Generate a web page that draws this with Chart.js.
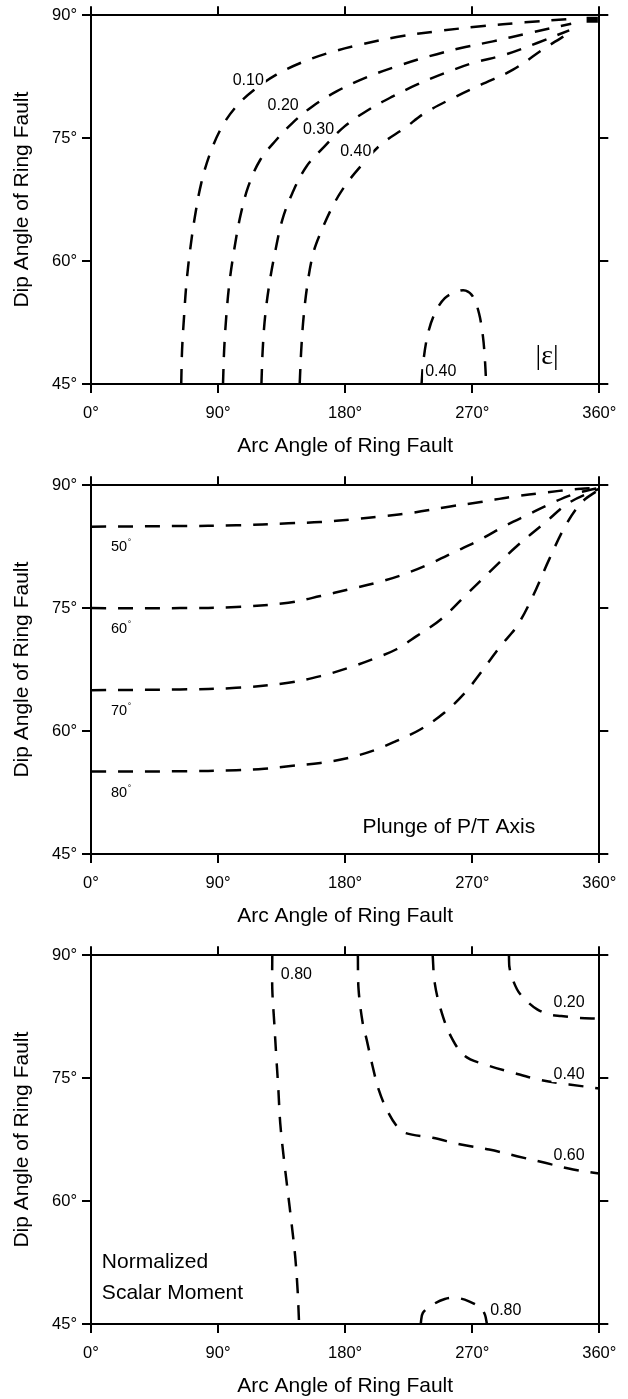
<!DOCTYPE html>
<html>
<head>
<meta charset="utf-8">
<script src="https://cdn.jsdelivr.net/npm/chart.js@4.4.1/dist/chart.umd.min.js"></script>
<style>
  html, body { margin: 0; padding: 0; background: #fff; width: 628px; height: 1399px; overflow: hidden; }
  canvas { position: absolute; left: 0; }
</style>
</head>
<body>
<canvas id="c1" width="628" height="470" style="top:0px"></canvas>
<canvas id="c2" width="628" height="470" style="top:470px"></canvas>
<canvas id="c3" width="628" height="470" style="top:940px"></canvas>
<script>
// ---------------- axis ticks ----------------
const xTicks = [0, 90, 180, 270, 360];
const yTicks = [45, 60, 75, 90];
const xTitle = 'Arc Angle of Ring Fault';
const yTitle = 'Dip Angle of Ring Fault';

// ---------------- panel 1 : |epsilon| contours ----------------
const eps010X = [63.9, 64.5, 65.9, 67.6, 70.2, 73.6, 78.1, 84.4, 92.9, 102.9, 115.6, 131.3, 148.3, 168.2, 190.9, 216.5, 244.9, 276.2, 307.4, 338.7];
const eps010Y = [45, 49.15, 53.23, 57.30, 61.37, 65.44, 69.52, 73.18, 76.44, 78.88, 80.92, 82.75, 84.18, 85.40, 86.42, 87.35, 88.05, 88.66, 89.14, 89.55];
const eps020X = [93.5, 94.3, 95.8, 98.0, 101.4, 105.7, 111.4, 119.9, 131.3, 142.6, 156.8, 173.9, 193.8, 216.5, 239.2, 262.0, 284.7, 310.3, 340.1];
const eps020Y = [45, 49.15, 53.23, 57.30, 61.37, 65.44, 69.11, 72.37, 74.81, 76.85, 78.88, 80.71, 82.34, 83.77, 84.99, 86.01, 86.82, 87.84, 88.98];
const eps030X = [120.7, 121.6, 123.3, 126.4, 130.7, 135.5, 142.6, 152.6, 165.4, 179.6, 196.6, 213.7, 230.7, 250.6, 270.5, 293.2, 316.0, 338.7];
const eps030Y = [45, 49.15, 53.23, 57.30, 61.37, 65.04, 68.29, 71.55, 74.0, 76.44, 78.48, 80.10, 81.53, 82.95, 84.18, 85.19, 86.62, 88.17];
const eps040X = [147.8, 148.9, 150.6, 153.4, 157.4, 162.5, 171.1, 179.6, 190.9, 205.1, 222.2, 236.4, 256.3, 276.2, 298.9, 321.6, 338.7];
const eps040Y = [45, 49.15, 53.23, 57.30, 60.96, 63.41, 66.67, 69.11, 71.55, 74.20, 76.24, 78.07, 79.90, 81.53, 83.36, 86.01, 87.84];
const eps040bX = [234.1, 235.5, 238.7, 243.5, 250.6, 259.1, 265.4, 270.5, 274.8, 277.6, 279.0, 279.9];
const eps040bY = [45, 47.93, 51.19, 53.63, 55.47, 56.28, 56.40, 55.67, 53.63, 50.78, 47.93, 45];
const epsCornerX = [351, 359];
const epsCornerY = [89.45, 89.45];

// ---------------- panel 2 : plunge of P/T axis ----------------
const pl50X = [0, 63, 102.8, 139.8, 162.5, 185.2, 208, 227.8, 253.4, 276, 298.9, 321.6, 341.5, 360];
const pl50Y = [84.95, 85.03, 85.11, 85.36, 85.52, 85.85, 86.25, 86.66, 87.39, 87.96, 88.62, 89.10, 89.51, 89.71];
const pl60X = [0, 63, 102.8, 139.8, 162.5, 182.4, 202, 219.3, 239, 259, 276, 293, 310, 327, 341.5, 360];
const pl60Y = [75.01, 75.01, 75.14, 75.67, 76.48, 77.29, 78.11, 79.0, 80.35, 81.98, 83.40, 85.03, 86.46, 87.88, 88.90, 89.71];
const pl70X = [0, 63, 102.8, 139.8, 162.5, 182.4, 202, 216, 230.6, 247.7, 264.8, 281.8, 301.7, 321.6, 338.6, 360];
const pl70Y = [65.00, 65.08, 65.28, 65.89, 66.71, 67.72, 68.95, 69.96, 71.59, 73.63, 76.48, 79.33, 82.59, 85.44, 87.88, 89.59];
const pl80X = [0, 63, 102.8, 122.7, 139.8, 162.5, 182.4, 202, 216, 233.2, 250.2, 264.8, 276, 290, 301.7, 313, 324.5, 335.9, 347.3, 360];
const pl80Y = [55.06, 55.10, 55.22, 55.39, 55.71, 56.12, 56.73, 57.75, 58.77, 60.19, 62.23, 64.67, 67.11, 70.37, 72.81, 76.48, 80.96, 85.03, 87.88, 89.51];

// ---------------- panel 3 : normalized scalar moment ----------------
const m080X = [128.4, 128.4, 129.8, 131.2, 132.7, 134, 136.4, 139.2, 142, 144.6, 146.3, 147.4];
const m080Y = [90, 85.85, 81.77, 77.70, 73.63, 69.56, 65.48, 61.41, 57.34, 53.27, 49.20, 45];
const m060X = [189, 189.5, 192.4, 195.2, 199.4, 203.7, 209.4, 216.5, 222.1, 242, 262, 282, 301.7, 321.6, 341.5, 360];
const m060Y = [90, 85.85, 81.77, 79.74, 76.48, 73.63, 71.19, 69.15, 68.34, 67.72, 66.91, 66.30, 65.48, 64.67, 63.86, 63.37];
const m040X = [242, 243.4, 247.7, 254.8, 264.8, 279, 299, 318.8, 338.6, 360];
const m040Y = [90, 86.66, 83.40, 80.14, 77.70, 76.68, 75.67, 74.77, 74.24, 73.75];
const m020X = [296, 296.6, 301.7, 307.4, 316, 324.5, 333, 344.5, 360];
const m020Y = [90, 88.29, 85.85, 84.62, 83.40, 82.79, 82.59, 82.38, 82.26];
const m080bX = [233.5, 235, 242, 250.6, 259, 267.7, 276, 279, 280.4];
const m080bY = [45, 46.34, 47.36, 48.05, 48.18, 47.77, 46.96, 46.14, 45];

// ---------------- labels (text + anchor in data units) ----------------
const labels1 = [
  { text: '0.10', x: 111.4, y: 82.06, bg: true },
  { text: '0.20', x: 136.1, y: 78.96, bg: true },
  { text: '0.30', x: 161.1, y: 76.03, bg: true },
  { text: '0.40', x: 187.5, y: 73.39, bg: true },
  { text: '0.40', x: 247.7, y: 46.51, bg: true },
  { text: '|\u03b5|', x: 323, y: 48.4, kind: 'big' }
];
const labels2 = [
  { text: '50', sup: '\u00b0', x: 14.2, y: 82.5, kind: 'small', align: 'left' },
  { text: '60', sup: '\u00b0', x: 14.2, y: 72.5, kind: 'small', align: 'left' },
  { text: '70', sup: '\u00b0', x: 14.2, y: 62.5, kind: 'small', align: 'left' },
  { text: '80', sup: '\u00b0', x: 14.2, y: 52.5, kind: 'small', align: 'left' },
  { text: 'Plunge of P/T Axis', x: 253.4, y: 48.3, kind: 'note' }
];
const labels3 = [
  { text: '0.80', x: 145.5, y: 87.6, bg: true },
  { text: '0.20', x: 338.6, y: 84.2, bg: true },
  { text: '0.40', x: 338.6, y: 75.5, bg: true },
  { text: '0.60', x: 338.6, y: 65.6, bg: true },
  { text: '0.80', x: 293.8, y: 46.6, bg: true },
  { text: 'Normalized', x: 7.7, y: 52.6, kind: 'note', align: 'left' },
  { text: 'Scalar Moment', x: 7.7, y: 48.7, kind: 'note', align: 'left' }
];

// ---------------- rendering ----------------
const FONT = "'Liberation Sans', Arial, Helvetica, sans-serif";
Chart.defaults.font.family = FONT;
Chart.defaults.color = '#000';

function pts(xs, ys) { return xs.map((x, i) => ({ x: x, y: ys[i] })); }
function curve(xs, ys) {
  return {
    data: pts(xs, ys), showLine: true, borderColor: '#000', borderWidth: 2.5,
    borderDash: [15, 12], pointRadius: 0, tension: 0.35, fill: false,
    xAxisID: 'x', yAxisID: 'y'
  };
}
function solid(xs, ys) {
  return {
    data: pts(xs, ys), showLine: true, borderColor: '#000', borderWidth: 6,
    borderCapStyle: 'butt', pointRadius: 0, tension: 0, fill: false,
    xAxisID: 'x', yAxisID: 'y'
  };
}

const labelPlugin = {
  id: 'curveLabels',
  afterDatasetsDraw(chart, args, opts) {
    const ctx = chart.ctx;
    const xs = chart.scales.x, ys = chart.scales.y;
    (opts.items || []).forEach(it => {
      let size = 16, family = FONT;
      if (it.kind === 'note') size = 21;
      if (it.kind === 'small') size = 14.5;
      if (it.kind === 'big') { size = 28; family = "'Liberation Serif', 'Times New Roman', serif"; }
      ctx.save();
      ctx.font = size + 'px ' + family;
      ctx.textBaseline = 'middle';
      const align = it.align || 'center';
      ctx.textAlign = align;
      const px = xs.getPixelForValue(it.x);
      const py = ys.getPixelForValue(it.y);
      const w = ctx.measureText(it.text).width;
      if (it.bg) {
        const left = align === 'left' ? px : px - w / 2;
        ctx.fillStyle = '#fff';
        ctx.fillRect(left - 2, py - size * 0.5, w + 4, size);
      }
      ctx.fillStyle = '#000';
      ctx.fillText(it.text, px, py);
      if (it.sup) {
        const sx = align === 'left' ? px + w + 0.5 : px + w / 2 + 0.5;
        ctx.font = (size * 0.6) + 'px ' + family;
        ctx.textAlign = 'left';
        ctx.fillText(it.sup, sx, py - size * 0.3);
      }
      ctx.restore();
    });
  }
};

function axisCommon() {
  return {
    type: 'linear',
    grid: { drawOnChartArea: false, drawTicks: true, tickLength: 9, lineWidth: 2, color: '#000' },
    border: { display: true, width: 2, color: '#000' }
  };
}

function makeChart(id, datasets, items) {
  const x = Object.assign(axisCommon(), {
    position: 'bottom', min: xTicks[0], max: xTicks[xTicks.length - 1],
    afterBuildTicks: s => { s.ticks = xTicks.map(v => ({ value: v })); },
    ticks: { callback: v => v + '\u00b0', font: { size: 16.5 }, color: '#000', padding: 11, maxRotation: 0, autoSkip: false },
    title: { display: true, text: xTitle, font: { size: 21 }, color: '#000', padding: { top: 0, bottom: 11 } },
    afterFit: s => { s.height = 86; }
  });
  const x2 = Object.assign(axisCommon(), {
    position: 'top', min: xTicks[0], max: xTicks[xTicks.length - 1],
    afterBuildTicks: s => { s.ticks = xTicks.map(v => ({ value: v })); },
    ticks: { display: false },
    afterFit: s => { s.height = 15.3; }
  });
  const y = Object.assign(axisCommon(), {
    position: 'left', min: yTicks[0], max: yTicks[yTicks.length - 1],
    afterBuildTicks: s => { s.ticks = yTicks.map(v => ({ value: v })); },
    ticks: { callback: v => v + '\u00b0', font: { size: 16.5 }, color: '#000', padding: 5, autoSkip: false },
    title: { display: true, text: yTitle, font: { size: 21 }, color: '#000', padding: { top: 10, bottom: 0 } },
    afterFit: s => { s.width = 91; }
  });
  const y2 = Object.assign(axisCommon(), {
    position: 'right', min: yTicks[0], max: yTicks[yTicks.length - 1],
    afterBuildTicks: s => { s.ticks = yTicks.map(v => ({ value: v })); },
    ticks: { display: false },
    afterFit: s => { s.width = 28.7; }
  });
  return new Chart(document.getElementById(id), {
    type: 'scatter',
    data: { datasets: datasets },
    options: {
      responsive: false, animation: false, devicePixelRatio: 1,
      layout: { padding: 0 },
      scales: { x: x, x2: x2, y: y, y2: y2 },
      plugins: { legend: { display: false }, tooltip: { enabled: false }, curveLabels: { items: items } }
    },
    plugins: [labelPlugin]
  });
}

makeChart('c1', [
  curve(eps010X, eps010Y), curve(eps020X, eps020Y), curve(eps030X, eps030Y),
  curve(eps040X, eps040Y), curve(eps040bX, eps040bY), solid(epsCornerX, epsCornerY)
], labels1);

makeChart('c2', [
  curve(pl50X, pl50Y), curve(pl60X, pl60Y), curve(pl70X, pl70Y), curve(pl80X, pl80Y)
], labels2);

makeChart('c3', [
  curve(m080X, m080Y), curve(m060X, m060Y), curve(m040X, m040Y),
  curve(m020X, m020Y), curve(m080bX, m080bY)
], labels3);
</script>
</body>
</html>
